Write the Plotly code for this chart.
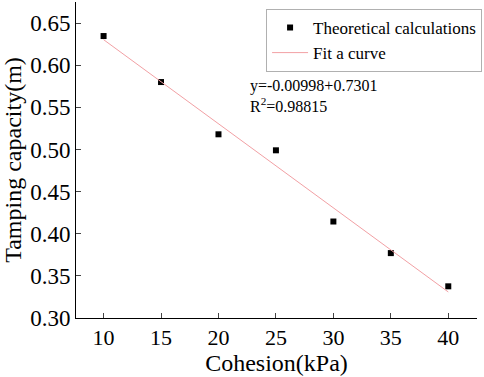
import plotly.graph_objects as go

cohesion = [10, 15, 20, 25, 30, 35, 40]
tamping = [0.6346, 0.580, 0.518, 0.499, 0.4145, 0.377, 0.3376]
fit_x = [10, 40]
fit_y = [0.6303, 0.3309]
x_ticks = [10, 15, 20, 25, 30, 35, 40]
y_ticks = [0.30, 0.35, 0.40, 0.45, 0.50, 0.55, 0.60, 0.65]

FONT = "Liberation Serif"

def f(size):
    return dict(family=FONT, size=size, color="black")

fig = go.Figure()
fig.add_trace(go.Scatter(x=cohesion, y=tamping, mode="markers", name="Theoretical calculations",
                         marker=dict(symbol="square", size=6, color="black")))
fig.add_trace(go.Scatter(x=fit_x, y=fit_y, mode="lines", name="Fit a curve",
                         line=dict(color="#f2a0a4", width=1)))

fig.add_annotation(x=22.6, y=0.5633, xref="x", yref="y", xanchor="left", yanchor="middle",
                   text="y=-0.00998+0.7301<br>R<sup>2</sup>=0.98815", showarrow=False, align="left",
                   font=f(16))

fig.update_layout(
    width=484, height=377,
    margin=dict(l=76, r=3, t=2, b=59),
    paper_bgcolor="white", plot_bgcolor="white",
    font=f(16),
    showlegend=True,
    legend=dict(x=0.474, y=0.978, xanchor="left", yanchor="top",
                bordercolor="#b0b0b0", borderwidth=1, bgcolor="white",
                font=f(17), tracegroupgap=0, itemwidth=36),
    xaxis=dict(range=[7.6, 42.5], tickvals=x_ticks, ticks="inside", ticklen=5,
               showline=True, linecolor="black", linewidth=1, showgrid=False, zeroline=False,
               tickfont=f(22), title=dict(text="Cohesion(kPa)", font=f(24), standoff=0)),
    yaxis=dict(range=[0.30, 0.675], tickvals=y_ticks, tickformat=".2f", ticks="inside", ticklen=5,
               showline=True, linecolor="black", linewidth=1, showgrid=False, zeroline=False,
               tickfont=f(23), title=dict(text="Tamping capacity(m)", font=f(24), standoff=3)),
)

fig.write_html("out.html", config={"displayModeBar": False},
               post_script="document.body.style.margin='0';document.body.style.padding='0';")
